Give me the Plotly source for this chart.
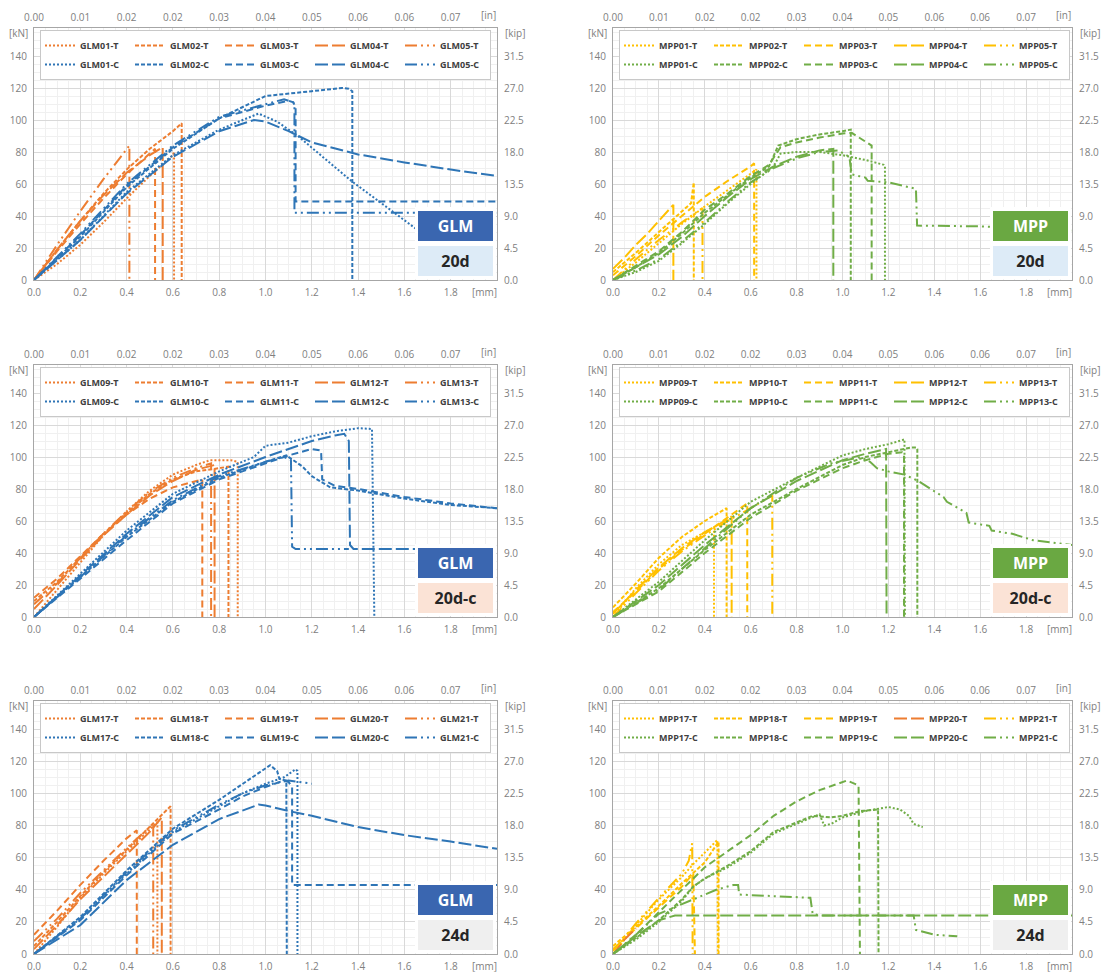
import plotly.graph_objects as go

# ---------------- axis tick labels ----------------
MM_TICKS = [0.0, 0.2, 0.4, 0.6, 0.8, 1.0, 1.2, 1.4, 1.6, 1.8]
MM_LABELS = ["0.0", "0.2", "0.4", "0.6", "0.8", "1.0", "1.2", "1.4", "1.6", "1.8"]
IN_LABELS = ["0.00", "0.01", "0.02", "0.02", "0.03", "0.04", "0.05", "0.06", "0.06", "0.07"]
KN_TICKS = [0, 20, 40, 60, 80, 100, 120, 140]
KN_LABELS = ["0", "20", "40", "60", "80", "100", "120", "140"]
KIP_TICKS = [0.0, 4.5, 9.0, 13.5, 18.0, 22.5, 27.0, 31.5]
KIP_LABELS = ["0.0", "4.5", "9.0", "13.5", "18.0", "22.5", "27.0", "31.5"]
MM_MAX = 2.0
KN_MAX = 157.5
KN_TO_KIP = 0.225

# ---------------- panel 1 : GLM 20d ----------------
GLM01_T_MM = [0, 0.1, 0.2, 0.3, 0.4, 0.5, 0.6, 0.605, 0.605]
GLM01_T_KN = [0, 10, 22, 36, 51, 65, 78, 80, 0]
GLM02_T_MM = [0, 0.1, 0.2, 0.3, 0.4, 0.5, 0.6, 0.638, 0.638]
GLM02_T_KN = [0, 19, 37, 54, 69, 82, 93, 98, 0]
GLM03_T_MM = [0, 0.1, 0.2, 0.3, 0.4, 0.523, 0.523]
GLM03_T_KN = [0, 18, 35, 51, 66, 82, 0]
GLM04_T_MM = [0, 0.1, 0.2, 0.3, 0.4, 0.5, 0.556, 0.556]
GLM04_T_KN = [0, 19, 37, 53, 67, 78, 83, 0]
GLM05_T_MM = [0, 0.1, 0.2, 0.3, 0.412, 0.412]
GLM05_T_KN = [0, 22, 43, 63, 84, 0]
GLM01_C_MM = [0, 0.2, 0.4, 0.6, 0.8, 0.9, 0.97, 1.05, 1.14, 1.37, 1.65, 1.75]
GLM01_C_KN = [0, 25, 55, 78, 94, 100, 104, 99, 90, 62, 32, 22]
GLM02_C_MM = [0, 0.2, 0.4, 0.6, 0.8, 1.0, 1.2, 1.33, 1.36, 1.375, 1.375]
GLM02_C_KN = [0, 27, 58, 82, 101, 115, 118, 120, 119.5, 118, 0]
GLM03_C_MM = [0, 0.2, 0.4, 0.6, 0.8, 1.0, 1.1, 1.12, 1.13, 1.13, 2.0]
GLM03_C_KN = [0, 28, 59, 83, 101, 109, 112, 111, 108, 49, 49]
GLM04_C_MM = [0, 0.2, 0.4, 0.6, 0.8, 0.95, 1.0, 1.1, 1.2, 1.4, 1.6, 1.8, 2.0]
GLM04_C_KN = [0, 25, 54, 77, 93, 100, 99, 93, 86, 78.5, 73.5, 69, 65]
GLM05_C_MM = [0, 0.2, 0.4, 0.6, 0.8, 1.0, 1.08, 1.12, 1.125, 1.125, 2.0]
GLM05_C_KN = [0, 29, 60, 84, 102, 110, 113, 111, 108, 42, 42]

# ---------------- panel 2 : MPP 20d ----------------
MPP01_T_MM = [0, 0.1, 0.2, 0.3, 0.4, 0.5, 0.6, 0.625, 0.625]
MPP01_T_KN = [0, 11, 23, 35, 46, 56, 66, 69, 0]
MPP02_T_MM = [0, 0.1, 0.2, 0.3, 0.34, 0.352, 0.352]
MPP02_T_KN = [5, 17, 30, 43, 48, 61, 0]
MPP03_T_MM = [0, 0.1, 0.2, 0.3, 0.4, 0.5, 0.6, 0.615, 0.615]
MPP03_T_KN = [3, 15, 28, 40, 52, 62, 71, 73, 0]
MPP04_T_MM = [0, 0.05, 0.1, 0.15, 0.2, 0.263, 0.263]
MPP04_T_KN = [7, 14, 22, 29, 37, 47, 0]
MPP05_T_MM = [0, 0.1, 0.2, 0.3, 0.39, 0.39]
MPP05_T_KN = [0, 13, 25, 36, 45, 0]
MPP01_C_MM = [0, 0.1, 0.2, 0.3, 0.4, 0.5, 0.6, 0.7, 0.73, 0.8, 0.9, 1.0, 1.1, 1.18, 1.185, 1.185]
MPP01_C_KN = [0, 5, 12, 23, 35, 48, 60, 71, 79, 80, 80, 78, 75, 72, 71, 0]
MPP02_C_MM = [0, 0.1, 0.2, 0.3, 0.4, 0.5, 0.6, 0.68, 0.72, 0.8, 0.9, 1.0, 1.036, 1.036]
MPP02_C_KN = [0, 8, 17, 29, 42, 53, 64, 71, 84, 88, 91, 93, 94, 0]
MPP03_C_MM = [0, 0.1, 0.2, 0.3, 0.4, 0.5, 0.6, 0.68, 0.73, 0.8, 0.9, 1.0, 1.04, 1.127, 1.127]
MPP03_C_KN = [0, 9, 18, 30, 44, 54, 65, 72, 83, 86, 89, 91.5, 92, 84, 0]
MPP04_C_MM = [0, 0.1, 0.2, 0.3, 0.4, 0.5, 0.6, 0.7, 0.8, 0.9, 0.96, 0.96]
MPP04_C_KN = [0, 8, 16, 27, 40, 52, 63, 71, 77, 81, 82, 0]
MPP05_C_MM = [0, 0.1, 0.2, 0.3, 0.4, 0.5, 0.6, 0.7, 0.8, 0.9, 0.98, 1.03, 1.04, 1.1, 1.11, 1.2, 1.32, 1.325, 1.6, 2.0]
MPP05_C_KN = [0, 6, 13, 24, 36, 49, 61, 70, 76, 80, 81, 77, 66, 64, 62, 61, 57, 34, 33.5, 31]

# ---------------- panel 3 : GLM 20d-c ----------------
GLM09_T_MM = [0, 0.1, 0.2, 0.3, 0.4, 0.5, 0.6, 0.7, 0.76, 0.85, 0.88, 0.88]
GLM09_T_KN = [0, 17, 34, 51, 66, 79, 89, 95, 98, 98, 97, 0]
GLM10_T_MM = [0, 0.1, 0.2, 0.3, 0.4, 0.5, 0.6, 0.7, 0.8, 0.84, 0.84]
GLM10_T_KN = [10, 22, 37, 52, 65, 77, 86, 91, 93, 94, 0]
GLM11_T_MM = [0, 0.1, 0.2, 0.3, 0.4, 0.5, 0.6, 0.7, 0.727, 0.727]
GLM11_T_KN = [12, 24, 38, 52, 64, 74, 81, 85, 86, 0]
GLM12_T_MM = [0, 0.1, 0.2, 0.3, 0.4, 0.5, 0.6, 0.7, 0.78, 0.78]
GLM12_T_KN = [5, 20, 36, 51, 64, 76, 85, 92, 95, 0]
GLM13_T_MM = [0, 0.1, 0.2, 0.3, 0.4, 0.5, 0.6, 0.7, 0.765, 0.765]
GLM13_T_KN = [8, 21, 37, 52, 66, 78, 87, 93, 96, 0]
GLM09_C_MM = [0, 0.2, 0.4, 0.6, 0.8, 0.95, 1.0, 1.1, 1.2, 1.3, 1.4, 1.46, 1.47]
GLM09_C_KN = [0, 27, 54, 77, 91, 100, 107, 109, 113, 116, 118, 117.5, 0]
GLM10_C_MM = [0, 0.2, 0.4, 0.6, 0.8, 1.0, 1.09, 1.13, 1.16, 1.2, 1.28, 1.4, 1.6, 1.8, 2.0]
GLM10_C_KN = [0, 25, 50, 72, 87, 97, 101, 97, 94, 88, 81, 79, 74, 70, 68]
GLM11_C_MM = [0, 0.2, 0.4, 0.6, 0.8, 1.0, 1.1, 1.2, 1.24, 1.245, 1.3, 1.4, 1.6, 1.8, 2.0]
GLM11_C_KN = [0, 24, 48, 71, 86, 96, 101, 105, 104, 86, 82, 80, 75, 71, 68]
GLM12_C_MM = [0, 0.2, 0.4, 0.6, 0.8, 1.0, 1.1, 1.2, 1.3, 1.34, 1.36, 1.365, 1.38, 2.0]
GLM12_C_KN = [0, 26, 52, 75, 89, 100, 105, 110, 113.5, 114.5, 110, 45, 42.5, 42.5]
GLM13_C_MM = [0, 0.2, 0.4, 0.6, 0.8, 1.0, 1.08, 1.11, 1.115, 1.13, 1.36]
GLM13_C_KN = [0, 25, 51, 73, 88, 97, 100, 98, 44, 42.5, 42.5]

# ---------------- panel 4 : MPP 20d-c ----------------
MPP09_T_MM = [0, 0.1, 0.2, 0.3, 0.4, 0.44, 0.44]
MPP09_T_KN = [0, 18, 33, 45, 53, 56, 0]
MPP10_T_MM = [0, 0.1, 0.2, 0.3, 0.4, 0.495, 0.495]
MPP10_T_KN = [6, 21, 37, 50, 60, 68, 0]
MPP11_T_MM = [0, 0.1, 0.2, 0.3, 0.4, 0.5, 0.585, 0.585]
MPP11_T_KN = [3, 16, 30, 42, 52, 62, 71, 0]
MPP12_T_MM = [0, 0.1, 0.2, 0.3, 0.4, 0.5, 0.517, 0.517]
MPP12_T_KN = [2, 17, 31, 43, 53, 61, 63, 0]
MPP13_T_MM = [0, 0.1, 0.2, 0.3, 0.4, 0.5, 0.6, 0.694, 0.694]
MPP13_T_KN = [0, 15, 29, 41, 51, 60, 68, 76, 0]
MPP09_C_MM = [0, 0.2, 0.4, 0.6, 0.8, 1.0, 1.1, 1.2, 1.27, 1.272]
MPP09_C_KN = [0, 22, 48, 72, 87, 101, 105, 108, 111, 0]
MPP10_C_MM = [0, 0.2, 0.4, 0.6, 0.8, 1.0, 1.1, 1.2, 1.3, 1.32, 1.326, 1.326]
MPP10_C_KN = [0, 18, 42, 64, 80, 95, 100, 103, 106, 106, 105, 0]
MPP11_C_MM = [0, 0.2, 0.4, 0.6, 0.8, 1.0, 1.1, 1.2, 1.26, 1.268, 1.268]
MPP11_C_KN = [0, 16, 40, 62, 79, 93, 98, 102, 103, 102, 0]
MPP12_C_MM = [0, 0.2, 0.4, 0.6, 0.8, 1.0, 1.1, 1.19, 1.192]
MPP12_C_KN = [0, 20, 45, 68, 85, 98, 102, 105, 0]
MPP13_C_MM = [0, 0.2, 0.4, 0.6, 0.8, 0.95, 1.08, 1.12, 1.15, 1.2, 1.27, 1.33, 1.44, 1.455, 1.54, 1.55, 1.64, 1.65, 1.74, 1.83, 2.0]
MPP13_C_KN = [0, 17, 43, 68, 87, 96, 100, 97, 93, 91, 89, 85, 75, 72, 65, 59, 57, 54, 52, 48, 45]

# ---------------- panel 5 : GLM 24d ----------------
GLM17_T_MM = [0, 0.1, 0.2, 0.3, 0.4, 0.5, 0.533, 0.533]
GLM17_T_KN = [0, 17, 35, 50, 64, 78, 82, 0]
GLM18_T_MM = [0, 0.1, 0.2, 0.3, 0.4, 0.5, 0.59, 0.59]
GLM18_T_KN = [5, 20, 36, 51, 65, 79, 92, 0]
GLM19_T_MM = [0, 0.1, 0.2, 0.3, 0.4, 0.444, 0.444]
GLM19_T_KN = [12, 27, 43, 58, 72, 77, 0]
GLM20_T_MM = [0, 0.1, 0.2, 0.3, 0.4, 0.5, 0.552, 0.552]
GLM20_T_KN = [3, 18, 34, 48, 62, 76, 85, 0]
GLM21_T_MM = [0, 0.1, 0.2, 0.3, 0.4, 0.515, 0.515]
GLM21_T_KN = [8, 22, 38, 52, 66, 81, 0]
GLM17_C_MM = [0, 0.2, 0.4, 0.6, 0.8, 0.9, 1.0, 1.08, 1.13, 1.138, 1.138]
GLM17_C_KN = [0, 22, 50, 76, 92, 100, 106, 110, 115, 114, 0]
GLM18_C_MM = [0, 0.2, 0.4, 0.6, 0.8, 0.9, 1.0, 1.02, 1.05, 1.06, 1.09, 1.092]
GLM18_C_KN = [0, 23, 52, 78, 96, 106, 116, 117.5, 114, 109, 108, 0]
GLM19_C_MM = [0, 0.2, 0.4, 0.6, 0.8, 0.9, 1.0, 1.08, 1.1, 1.115, 1.115, 2.0]
GLM19_C_KN = [0, 21, 49, 75, 90, 98, 104, 108, 107, 104, 43, 43]
GLM20_C_MM = [0, 0.2, 0.4, 0.6, 0.8, 0.97, 1.0, 1.1, 1.2, 1.4, 1.6, 1.8, 2.0]
GLM20_C_KN = [0, 18, 46, 68, 84, 93, 92.5, 89, 86, 79, 74, 70, 65.5]
GLM21_C_MM = [0, 0.2, 0.4, 0.6, 0.8, 0.9, 1.0, 1.1, 1.2]
GLM21_C_KN = [0, 22, 51, 77, 93, 100, 105, 108, 106]

# ---------------- panel 6 : MPP 24d ----------------
MPP17_T_MM = [0, 0.1, 0.2, 0.3, 0.35, 0.4, 0.455, 0.457]
MPP17_T_KN = [0, 18, 34, 48, 56, 63, 71, 0]
MPP18_T_MM = [0, 0.1, 0.2, 0.3, 0.4, 0.45, 0.46, 0.46]
MPP18_T_KN = [5, 17, 30, 44, 57, 68, 70, 0]
MPP19_T_MM = [0, 0.1, 0.2, 0.3, 0.35, 0.357]
MPP19_T_KN = [3, 16, 29, 42, 50, 0]
MPP20_T_MM = [0, 0.05, 0.1]
MPP20_T_KN = [0, 9, 16]
MPP21_T_MM = [0, 0.1, 0.2, 0.3, 0.33, 0.345, 0.347]
MPP21_T_KN = [2, 19, 35, 50, 58, 69, 0]
MPP17_C_MM = [0, 0.1, 0.2, 0.3, 0.35, 0.4, 0.5, 0.6, 0.7, 0.8, 0.9, 0.92, 0.95, 1.0, 1.1, 1.2, 1.25, 1.29, 1.31, 1.35]
MPP17_C_KN = [0, 9, 20, 33, 42, 47, 54, 63, 75, 81, 87, 80, 81, 85, 89, 91.5, 90, 86, 81, 79]
MPP18_C_MM = [0, 0.1, 0.2, 0.3, 0.35, 0.4, 0.5, 0.6, 0.7, 0.8, 0.87, 0.95, 1.0, 1.08, 1.155, 1.157]
MPP18_C_KN = [0, 10, 21, 34, 42, 47, 55, 64, 76, 82, 86, 85, 86, 89, 90, 0]
MPP19_C_MM = [0, 0.1, 0.2, 0.3, 0.4, 0.5, 0.6, 0.7, 0.8, 0.9, 1.0, 1.02, 1.07, 1.076]
MPP19_C_KN = [0, 12, 26, 40, 54, 64, 74, 86, 95, 102, 107, 108, 105, 0]
MPP20_C_MM = [0, 0.1, 0.2, 0.27, 2.0]
MPP20_C_KN = [0, 11, 21, 24, 24]
MPP21_C_MM = [0, 0.1, 0.2, 0.35, 0.45, 0.524, 0.545, 0.55, 0.7, 0.86, 0.87, 0.9, 1.1, 1.31, 1.32, 1.4, 1.5]
MPP21_C_KN = [0, 12, 25, 34, 40, 43, 43, 37, 36, 35, 25, 24, 24, 24, 15, 12, 11]

SERIES = {
    "GLM01-T": (GLM01_T_MM, GLM01_T_KN), "GLM02-T": (GLM02_T_MM, GLM02_T_KN),
    "GLM03-T": (GLM03_T_MM, GLM03_T_KN), "GLM04-T": (GLM04_T_MM, GLM04_T_KN),
    "GLM05-T": (GLM05_T_MM, GLM05_T_KN),
    "GLM01-C": (GLM01_C_MM, GLM01_C_KN), "GLM02-C": (GLM02_C_MM, GLM02_C_KN),
    "GLM03-C": (GLM03_C_MM, GLM03_C_KN), "GLM04-C": (GLM04_C_MM, GLM04_C_KN),
    "GLM05-C": (GLM05_C_MM, GLM05_C_KN),
    "MPP01-T": (MPP01_T_MM, MPP01_T_KN), "MPP02-T": (MPP02_T_MM, MPP02_T_KN),
    "MPP03-T": (MPP03_T_MM, MPP03_T_KN), "MPP04-T": (MPP04_T_MM, MPP04_T_KN),
    "MPP05-T": (MPP05_T_MM, MPP05_T_KN),
    "MPP01-C": (MPP01_C_MM, MPP01_C_KN), "MPP02-C": (MPP02_C_MM, MPP02_C_KN),
    "MPP03-C": (MPP03_C_MM, MPP03_C_KN), "MPP04-C": (MPP04_C_MM, MPP04_C_KN),
    "MPP05-C": (MPP05_C_MM, MPP05_C_KN),
    "GLM09-T": (GLM09_T_MM, GLM09_T_KN), "GLM10-T": (GLM10_T_MM, GLM10_T_KN),
    "GLM11-T": (GLM11_T_MM, GLM11_T_KN), "GLM12-T": (GLM12_T_MM, GLM12_T_KN),
    "GLM13-T": (GLM13_T_MM, GLM13_T_KN),
    "GLM09-C": (GLM09_C_MM, GLM09_C_KN), "GLM10-C": (GLM10_C_MM, GLM10_C_KN),
    "GLM11-C": (GLM11_C_MM, GLM11_C_KN), "GLM12-C": (GLM12_C_MM, GLM12_C_KN),
    "GLM13-C": (GLM13_C_MM, GLM13_C_KN),
    "MPP09-T": (MPP09_T_MM, MPP09_T_KN), "MPP10-T": (MPP10_T_MM, MPP10_T_KN),
    "MPP11-T": (MPP11_T_MM, MPP11_T_KN), "MPP12-T": (MPP12_T_MM, MPP12_T_KN),
    "MPP13-T": (MPP13_T_MM, MPP13_T_KN),
    "MPP09-C": (MPP09_C_MM, MPP09_C_KN), "MPP10-C": (MPP10_C_MM, MPP10_C_KN),
    "MPP11-C": (MPP11_C_MM, MPP11_C_KN), "MPP12-C": (MPP12_C_MM, MPP12_C_KN),
    "MPP13-C": (MPP13_C_MM, MPP13_C_KN),
    "GLM17-T": (GLM17_T_MM, GLM17_T_KN), "GLM18-T": (GLM18_T_MM, GLM18_T_KN),
    "GLM19-T": (GLM19_T_MM, GLM19_T_KN), "GLM20-T": (GLM20_T_MM, GLM20_T_KN),
    "GLM21-T": (GLM21_T_MM, GLM21_T_KN),
    "GLM17-C": (GLM17_C_MM, GLM17_C_KN), "GLM18-C": (GLM18_C_MM, GLM18_C_KN),
    "GLM19-C": (GLM19_C_MM, GLM19_C_KN), "GLM20-C": (GLM20_C_MM, GLM20_C_KN),
    "GLM21-C": (GLM21_C_MM, GLM21_C_KN),
    "MPP17-T": (MPP17_T_MM, MPP17_T_KN), "MPP18-T": (MPP18_T_MM, MPP18_T_KN),
    "MPP19-T": (MPP19_T_MM, MPP19_T_KN), "MPP20-T": (MPP20_T_MM, MPP20_T_KN),
    "MPP21-T": (MPP21_T_MM, MPP21_T_KN),
    "MPP17-C": (MPP17_C_MM, MPP17_C_KN), "MPP18-C": (MPP18_C_MM, MPP18_C_KN),
    "MPP19-C": (MPP19_C_MM, MPP19_C_KN), "MPP20-C": (MPP20_C_MM, MPP20_C_KN),
    "MPP21-C": (MPP21_C_MM, MPP21_C_KN),
}

# ---------------- styles ----------------
ORANGE = "#ED7D31"
BLUE = "#2E75B6"
GOLD = "#FFC000"
GREEN = "#70AD47"
DASHES = ["2px,2px", "4px,2px", "7px,4px", "13px,4px", "12px,4px,2px,4px,2px,4px"]

PANELS = [
    dict(mat="GLM", ids=["01", "02", "03", "04", "05"], cond="20d", tcol=ORANGE, ccol=BLUE,
         matbg="#3A66B0", condbg="#DDEBF7", col=0, row=0),
    dict(mat="MPP", ids=["01", "02", "03", "04", "05"], cond="20d", tcol=GOLD, ccol=GREEN,
         matbg="#6AA842", condbg="#DDEBF7", col=1, row=0),
    dict(mat="GLM", ids=["09", "10", "11", "12", "13"], cond="20d-c", tcol=ORANGE, ccol=BLUE,
         matbg="#3A66B0", condbg="#FBE3D6", col=0, row=1),
    dict(mat="MPP", ids=["09", "10", "11", "12", "13"], cond="20d-c", tcol=GOLD, ccol=GREEN,
         matbg="#6AA842", condbg="#FBE3D6", col=1, row=1),
    dict(mat="GLM", ids=["17", "18", "19", "20", "21"], cond="24d", tcol=ORANGE, ccol=BLUE,
         matbg="#3A66B0", condbg="#EFEFEF", col=0, row=2),
    dict(mat="MPP", ids=["17", "18", "19", "20", "21"], cond="24d", tcol=GOLD, ccol=GREEN,
         matbg="#6AA842", condbg="#EFEFEF", col=1, row=2),
]
T_COLOR_OVERRIDE = {"MPP20-T": ORANGE}

# page body has an 8px margin: the figure is sized and placed to compensate
PAGE_OFF = 8
W, H = 1112 - PAGE_OFF, 976 - PAGE_OFF
COLS_PX = [(34, 497), (613, 1072)]          # plot areas in page pixels
ROWS_PX = [(28, 280), (365, 617), (701, 954)]


def px_x(v):
    return (v - PAGE_OFF) / W


def px_y(v):
    return 1 - (v - PAGE_OFF) / H


TICKFONT = dict(family="Open Sans", size=10, color="#808080")
GRID = "#d9d9d9"
MINOR_GRID = "#f0f0f0"
BORDER = "#a6a6a6"
LEGEND_BORDER = "#c8c8c8"

fig = go.Figure()
layout = dict(
    width=W, height=H, margin=dict(l=0, r=0, t=0, b=0),
    paper_bgcolor="white", plot_bgcolor="white", template="none",
    showlegend=True, annotations=[],
)

for i, p in enumerate(PANELS, start=1):
    xa, xb = 2 * i - 1, 2 * i
    ya, yb = 2 * i - 1, 2 * i
    xid = "x" if xa == 1 else f"x{xa}"
    yid = "y" if ya == 1 else f"y{ya}"
    xkey = "xaxis" if xa == 1 else f"xaxis{xa}"
    ykey = "yaxis" if ya == 1 else f"yaxis{ya}"
    leg = "legend" if i == 1 else f"legend{i}"
    l_px, r_px = COLS_PX[p["col"]]
    t_px, b_px = ROWS_PX[p["row"]]
    xdom = [px_x(l_px), px_x(r_px)]
    ydom = [px_y(b_px), px_y(t_px)]

    for kind, color in (("T", p["tcol"]), ("C", p["ccol"])):
        for k, sid in enumerate(p["ids"]):
            name = f"{p['mat']}{sid}-{kind}"
            mm, kn = SERIES[name]
            fig.add_trace(go.Scatter(
                x=mm, y=kn, mode="lines", name=name,
                line=dict(color=T_COLOR_OVERRIDE.get(name, color), width=2, dash=DASHES[k]),
                xaxis=xid, yaxis=yid, legend=leg, legendgroup=f"p{i}g{k}",
                hoverinfo="name+x+y",
            ))
    # empty trace so that the secondary [in] / [kip] axes get drawn
    fig.add_trace(go.Scatter(x=[], y=[], mode="lines", showlegend=False, hoverinfo="skip",
                             xaxis=f"x{xb}", yaxis=f"y{yb}"))

    layout[xkey] = dict(
        domain=xdom, anchor=yid, range=[0, MM_MAX], tickmode="array",
        tickvals=MM_TICKS, ticktext=MM_LABELS, tickfont=TICKFONT,
        showgrid=True, gridcolor=GRID, gridwidth=1, zeroline=False,
        showline=True, mirror=True, linecolor=BORDER, linewidth=1, ticks="",
        ticklabelstandoff=3,
        minor=dict(tickmode="linear", tick0=0, dtick=0.05, showgrid=True,
                   gridcolor=MINOR_GRID, gridwidth=1),
    )
    layout[f"xaxis{xb}"] = dict(
        overlaying=xid, anchor=yid, side="top", range=[0, MM_MAX], tickmode="array",
        tickvals=MM_TICKS, ticktext=IN_LABELS, tickfont=TICKFONT,
        showgrid=False, zeroline=False, showline=False, ticks="", ticklabelstandoff=4,
    )
    layout[ykey] = dict(
        domain=ydom, anchor=xid, range=[0, KN_MAX], tickmode="array",
        tickvals=KN_TICKS, ticktext=KN_LABELS, tickfont=TICKFONT,
        showgrid=True, gridcolor=GRID, gridwidth=1, zeroline=False,
        showline=True, mirror=True, linecolor=BORDER, linewidth=1, ticks="",
        ticklabelstandoff=4,
        minor=dict(tickmode="linear", tick0=0, dtick=5, showgrid=True,
                   gridcolor=MINOR_GRID, gridwidth=1),
    )
    layout[f"yaxis{yb}"] = dict(
        overlaying=yid, anchor=xid, side="right", range=[0, KN_MAX * KN_TO_KIP],
        tickmode="array", tickvals=KIP_TICKS, ticktext=KIP_LABELS, tickfont=TICKFONT,
        showgrid=False, zeroline=False, showline=False, ticks="", ticklabelstandoff=6,
    )

    layout[leg] = dict(
        x=px_x(l_px + 6), y=px_y(t_px + 2), xanchor="left", yanchor="top",
        xref="paper", yref="paper", orientation="h", traceorder="grouped",
        entrywidth=45, entrywidthmode="pixels", itemwidth=30, tracegroupgap=0,
        bgcolor="white", bordercolor=LEGEND_BORDER, borderwidth=1,
        font=dict(family="Open Sans", size=9, color="#404040", weight="bold"),
    )

    xdref, ydref = f"{xid} domain", f"{yid} domain"
    anns = layout["annotations"]
    anns.append(dict(text="[mm]", xref=xid, yref=ydref, x=1.945, y=0, yanchor="top",
                     yshift=-3, showarrow=False, font=TICKFONT))
    anns.append(dict(text="[in]", xref=xid, yref=ydref, x=1.965, y=1, yanchor="bottom",
                     yshift=4, showarrow=False, font=TICKFONT))
    anns.append(dict(text="[kN]", xref=xdref, yref=yid, x=0, y=154.5, xanchor="right",
                     xshift=-4, showarrow=False, font=TICKFONT))
    anns.append(dict(text="[kip]", xref=xdref, yref=yid, x=1, y=154.5, xanchor="left",
                     xshift=6, showarrow=False, font=TICKFONT))
    # white backing behind the two label boxes
    anns.append(dict(text="", xref=xdref, yref=ydref, x=1, y=0, xanchor="right",
                     yanchor="bottom", xshift=-1, yshift=1, width=81, height=72,
                     bgcolor="white", borderpad=0, borderwidth=0, showarrow=False))
    anns.append(dict(text=p["mat"], xref=xdref, yref=ydref, x=1, y=0, xanchor="right",
                     yanchor="bottom", xshift=-4, yshift=39, width=75, height=30,
                     bgcolor=p["matbg"], borderpad=0, borderwidth=0, showarrow=False,
                     font=dict(family="Open Sans", size=16, color="white", weight="bold")))
    anns.append(dict(text=p["cond"], xref=xdref, yref=ydref, x=1, y=0, xanchor="right",
                     yanchor="bottom", xshift=-4, yshift=4, width=75, height=30,
                     bgcolor=p["condbg"], borderpad=0, borderwidth=0, showarrow=False,
                     font=dict(family="Open Sans", size=16, color="#262626", weight="bold")))

fig.update_layout(**layout)
fig.write_html("out.html")
